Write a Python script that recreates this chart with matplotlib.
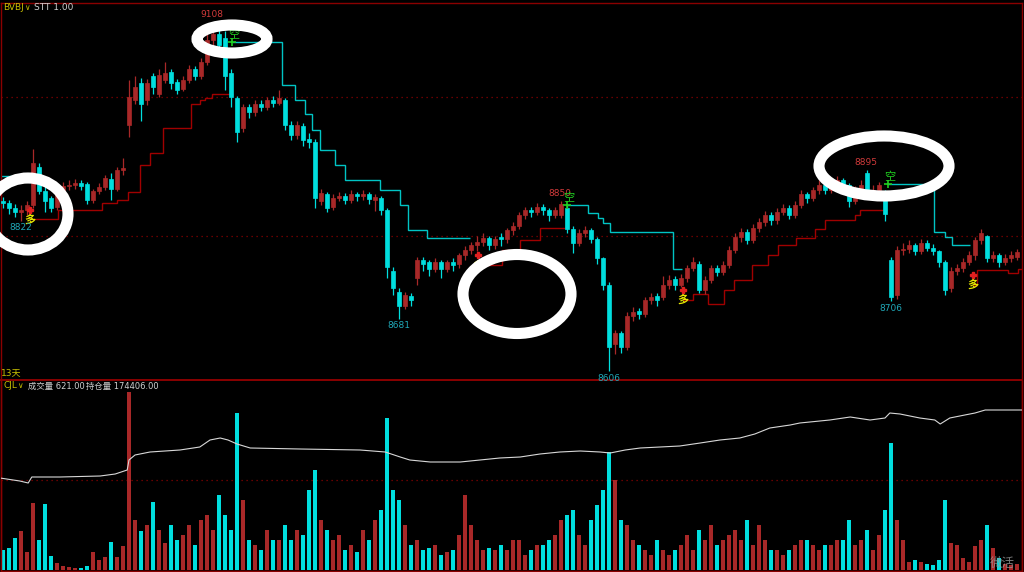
import matplotlib.pyplot as plt
from matplotlib.patches import Ellipse

plt.rcParams['font.family'] = ['DejaVu Sans', 'Noto Sans CJK SC']

# candles (price)
opens = [8850, 8848, 8840, 8835, 8838, 8845, 8900, 8865, 8855, 8842,
         8866, 8872, 8873, 8876, 8875, 8852, 8865, 8870, 8882, 8868,
         8895, 8960, 8995, 9020, 8995, 9030, 9005, 9025, 9036, 9022,
         9012, 9025, 9040, 9030, 9050, 9082, 9090, 9085, 9035, 8998,
         8955, 8985, 8978, 8990, 8986, 8995, 8992, 8995, 8960, 8945,
         8958, 8940, 8935, 8850, 8860, 8842, 8855, 8858, 8852, 8860,
         8857, 8860, 8852, 8855, 8838, 8750, 8720, 8700, 8714, 8740,
         8765, 8762, 8752, 8762, 8752, 8762, 8760, 8772, 8780, 8787,
         8792, 8797, 8787, 8798, 8795, 8808, 8815, 8830, 8837, 8834,
         8842, 8837, 8830, 8830, 8840, 8810, 8790, 8805, 8808, 8795,
         8768, 8730, 8645, 8660, 8640, 8685, 8692, 8688, 8708, 8714,
         8712, 8730, 8738, 8730, 8740, 8754, 8760, 8722, 8737, 8754,
         8748, 8758, 8780, 8798, 8806, 8794, 8812, 8820, 8830, 8823,
         8835, 8840, 8830, 8845, 8860, 8855, 8866, 8873, 8866, 8873,
         8881, 8873, 8850, 8866, 8890, 8862, 8866, 8862, 8765, 8715,
         8780, 8782, 8787, 8778, 8790, 8783, 8778, 8763, 8725, 8750,
         8754, 8763, 8772, 8794, 8800, 8768, 8772, 8763, 8768, 8770]
closes = [8848, 8840, 8835, 8838, 8845, 8905, 8865, 8850, 8840, 8868,
          8872, 8873, 8876, 8872, 8852, 8865, 8870, 8883, 8868, 8895,
          8898, 9000, 9015, 8990, 9020, 9015, 9032, 9035, 9020, 9010,
          9025, 9040, 9030, 9050, 9082, 9090, 9075, 9030, 9000, 8950,
          8985, 8978, 8990, 8986, 8995, 8992, 8998, 8960, 8945, 8960,
          8938, 8935, 8855, 8862, 8840, 8855, 8858, 8852, 8860, 8857,
          8860, 8853, 8856, 8838, 8755, 8725, 8700, 8715, 8708, 8765,
          8760, 8752, 8762, 8752, 8762, 8758, 8772, 8780, 8787, 8792,
          8797, 8787, 8795, 8795, 8808, 8815, 8830, 8837, 8834, 8842,
          8837, 8830, 8838, 8846, 8810, 8790, 8805, 8808, 8795, 8768,
          8730, 8640, 8660, 8640, 8685, 8690, 8688, 8708, 8712, 8708,
          8730, 8737, 8730, 8740, 8754, 8763, 8722, 8737, 8754, 8748,
          8758, 8780, 8798, 8806, 8794, 8812, 8820, 8830, 8823, 8835,
          8840, 8830, 8845, 8860, 8855, 8866, 8873, 8866, 8873, 8881,
          8873, 8850, 8866, 8873, 8862, 8866, 8873, 8832, 8712, 8780,
          8782, 8787, 8778, 8790, 8783, 8778, 8763, 8722, 8750, 8754,
          8763, 8772, 8794, 8804, 8768, 8772, 8763, 8768, 8772, 8777]
highs = [8856, 8852, 8846, 8844, 8850, 8925, 8905, 8875, 8858, 8872,
         8878, 8880, 8882, 8880, 8878, 8868, 8876, 8888, 8890, 8900,
         8912, 9025, 9030, 9028, 9026, 9034, 9040, 9050, 9040, 9026,
         9030, 9046, 9044, 9056, 9090, 9108, 9096, 9095, 9040, 9002,
         8990, 8990, 8996, 8996, 9000, 9002, 9010, 8998, 8966, 8965,
         8962, 8948, 8940, 8868, 8864, 8860, 8864, 8862, 8866, 8864,
         8866, 8864, 8860, 8858, 8840, 8756, 8725, 8720, 8718, 8770,
         8770, 8766, 8768, 8766, 8766, 8768, 8776, 8786, 8792, 8800,
         8804, 8800, 8800, 8804, 8812, 8820, 8834, 8842, 8842, 8848,
         8846, 8840, 8842, 8850, 8844, 8814, 8810, 8814, 8812, 8798,
         8770, 8734, 8665, 8664, 8690, 8698, 8696, 8712, 8718, 8718,
         8742, 8744, 8742, 8746, 8758, 8770, 8764, 8742, 8758, 8758,
         8764, 8786, 8804, 8812, 8810, 8818, 8826, 8836, 8834, 8840,
         8846, 8844, 8850, 8866, 8864, 8870, 8880, 8876, 8878, 8886,
         8884, 8876, 8872, 8880, 8895, 8874, 8878, 8866, 8770, 8785,
         8790, 8794, 8790, 8796, 8794, 8788, 8780, 8766, 8756, 8760,
         8768, 8778, 8798, 8810, 8802, 8778, 8776, 8774, 8778, 8782]
lows = [8840, 8832, 8828, 8822, 8830, 8840, 8860, 8835, 8835, 8838,
        8862, 8866, 8868, 8866, 8846, 8848, 8860, 8866, 8852, 8865,
        8888, 8942, 8990, 8965, 8988, 9005, 9000, 9020, 9012, 9005,
        9008, 9020, 9024, 9026, 9046, 9070, 9066, 9010, 8985, 8935,
        8950, 8970, 8972, 8980, 8982, 8986, 8988, 8952, 8938, 8940,
        8930, 8926, 8840, 8845, 8834, 8838, 8850, 8846, 8848, 8850,
        8852, 8846, 8836, 8830, 8740, 8715, 8681, 8695, 8700, 8730,
        8750, 8742, 8748, 8740, 8748, 8750, 8754, 8766, 8774, 8778,
        8786, 8780, 8782, 8786, 8790, 8802, 8810, 8824, 8828, 8830,
        8830, 8822, 8826, 8826, 8805, 8775, 8785, 8798, 8790, 8760,
        8722, 8606, 8630, 8632, 8636, 8678, 8680, 8684, 8702, 8700,
        8708, 8724, 8722, 8726, 8734, 8750, 8718, 8716, 8732, 8742,
        8744, 8754, 8776, 8792, 8788, 8790, 8806, 8814, 8816, 8818,
        8830, 8824, 8826, 8840, 8848, 8850, 8860, 8860, 8862, 8868,
        8866, 8842, 8846, 8862, 8858, 8856, 8860, 8822, 8706, 8710,
        8772, 8776, 8772, 8774, 8778, 8772, 8756, 8715, 8720, 8744,
        8748, 8758, 8766, 8788, 8762, 8762, 8756, 8758, 8762, 8766]

# volume (lots) and open interest
volume = [2000, 2200, 3200, 3900, 1800, 6700, 3000, 6600, 1400, 700,
          400, 300, 200, 200, 400, 1800, 1000, 1300, 2800, 1300,
          2400, 17800, 5000, 3900, 4500, 6800, 4000, 2700, 4500, 3000,
          3500, 4500, 2500, 5000, 5500, 4000, 7500, 5500, 4000, 15700,
          7000, 3000, 2500, 2000, 4000, 3000, 3000, 4500, 3000, 4000,
          3500, 8000, 10000, 5000, 4000, 3000, 3500, 2000, 2500, 1800,
          4000, 3000, 5000, 6000, 15200, 8000, 7000, 4500, 2500, 3000,
          2000, 2200, 2500, 1500, 1800, 2000, 3500, 7500, 4500, 3000,
          2000, 2200, 2000, 2500, 2000, 3000, 3000, 1500, 2000, 2500,
          2500, 3000, 3500, 5000, 5500, 6000, 3500, 2500, 5000, 6500,
          8000, 11800, 9000, 5000, 4500, 3000, 2500, 2000, 1500, 3000,
          2000, 1500, 2000, 2500, 3500, 2000, 4000, 3000, 4500, 2500,
          3000, 3500, 4000, 3000, 5000, 2500, 4500, 3000, 2000, 2000,
          1500, 2000, 2500, 3000, 3000, 2500, 2000, 2500, 2500, 3000,
          3000, 5000, 2500, 3000, 4000, 2000, 3500, 6000, 12700, 5000,
          3000, 800, 1000, 800, 600, 500, 1000, 7000, 2700, 2500,
          1200, 800, 2400, 3000, 4500, 2200, 1200, 600, 500, 621]
oi_idx = [-0.5, 2.8, 4.2, 4.8, 9.5, 16.2, 18.7, 20.7, 21.0, 22.0,
          24.5, 29.5, 32.8, 34.5, 36.2, 37.5, 39.0, 41.2, 49.5, 59.5,
          63.7, 66.2, 67.8, 71.2, 76.2, 79.5, 82.8, 86.2, 89.5, 92.8,
          96.2, 99.5, 101.2, 103.7, 106.2, 109.5, 112.8, 116.2, 119.5, 122.8,
          125.3, 127.8, 131.2, 132.8, 137.8, 141.2, 144.5, 147.0, 147.8, 149.5,
          152.8, 155.3, 156.2, 157.8, 160.3, 162.0, 163.7, 169.8]
oi_val = [171006, 170856, 170756, 171056, 171056, 171106, 171206, 171406, 171906, 172156,
          172306, 172406, 172556, 172906, 173006, 172906, 172706, 172506, 172456, 172406,
          172306, 172056, 171906, 171806, 171806, 171906, 172006, 172056, 172206, 172306,
          172356, 172306, 172256, 172406, 172506, 172556, 172606, 172756, 172906, 173006,
          173206, 173506, 173656, 173756, 173906, 174056, 173906, 174006, 174256, 174206,
          174006, 173906, 173706, 174006, 174156, 174256, 174406, 174406]

# trailing stop lines: (edges in bar index, levels)
short_lines = [
    ([-0.5, 4.2], [8886]),
    ([38.2, 46.5, 48.7, 50.3, 51.5, 52.8, 55.3, 57.0, 62.8, 66.2, 67.5, 70.7, 77.8],
     [9079, 9018, 8996, 8975, 8953, 8924, 8902, 8881, 8866, 8845, 8809, 8797]),
    ([94.0, 97.5, 99.2, 100.0, 101.2, 111.7, 113.2],
     [8845, 8833, 8826, 8819, 8806, 8753]),
    ([147.5, 155.2, 157.0, 158.2, 161.2], [8875, 8806, 8799, 8787]),
]
long_lines = [
    ([4.5, 9.2, 16.5, 19.0, 20.8, 22.8, 24.5, 26.7, 31.3, 32.8, 33.7, 34.8, 38.3],
     [8824, 8837, 8847, 8852, 8863, 8902, 8920, 8955, 8990, 8995, 8999, 9005]),
    ([79.2, 83.2, 86.2, 89.5, 93.7], [8758, 8780, 8794, 8812]),
    ([113.3, 115.0, 117.5, 120.2, 121.8, 124.8, 127.5, 129.2, 132.2, 135.3, 137.0, 142.0, 142.8, 147.3],
     [8708, 8717, 8702, 8722, 8737, 8758, 8773, 8787, 8797, 8810, 8823, 8830, 8837]),
    ([161.7, 162.3, 167.5, 169.2, 170.0], [8730, 8751, 8747, 8752]),
]
high_marks = [35, 93, 144]
low_marks = [3, 66, 101, 148]

UP = '#a82828'
DOWN = '#00dede'
FLAT = '#b0b0b0'
BORDER = '#8a0000'

W, H = 1024, 572
fig = plt.figure(figsize=(W / 100, H / 100), dpi=100, facecolor='black')
ax = fig.add_axes([1 / W, 1 - 380 / H, 1021 / W, 377 / H], facecolor='black')
axv = fig.add_axes([1 / W, 1 / H, 1021 / W, 190 / H], facecolor='black', sharex=ax)

n = len(closes)
idx = list(range(n))
cols = [UP if c > o else (DOWN if c < o else FLAT) for o, c in zip(opens, closes)]

ax.vlines(idx, lows, highs, colors=cols, lw=0.9, zorder=3)
bottoms = [min(o, c) for o, c in zip(opens, closes)]
heights = [max(abs(c - o), 1.5) for o, c in zip(opens, closes)]
ax.bar(idx, heights, bottom=bottoms, width=0.55, color=cols, edgecolor=cols, lw=0.5, zorder=4)

for edges, lv in short_lines:
    ax.stairs(lv, edges, baseline=None, color='#00c4c4', lw=1.0, zorder=2)
for edges, lv in long_lines:
    ax.stairs(lv, edges, baseline=None, color='#a00000', lw=1.0, zorder=2)

# signals
for edges, lv in long_lines:
    ax.annotate('多', (edges[0], lv[0]), color='#e6e600', fontsize=8, ha='center', va='center',
                fontweight='bold', zorder=6)
    ax.plot(edges[0], lv[0] + 14, marker='P', color='#e02020', ms=5, mec='#e02020', zorder=6)
for edges, lv in short_lines[1:]:
    ax.annotate('空', (edges[0], lv[0]), xytext=(1, 5), textcoords='offset points',
                color='#20d020', fontsize=8, ha='center', va='center', zorder=6)
    ax.plot(edges[0], lv[0], marker='+', color='#20d020', ms=6, mew=1.2, zorder=6)

for i in high_marks:
    ax.annotate(f'{highs[i]}', (i, highs[i]), xytext=(-1, 2), textcoords='offset points',
                color='#d03a3a', fontsize=6.5, ha='center', va='bottom', zorder=5)
for i in low_marks:
    ax.annotate(f'{lows[i]}', (i, lows[i]), xytext=(0, -2), textcoords='offset points',
                color='#20a8b8', fontsize=6.5, ha='center', va='top', zorder=6)

for g in (9000, 8800):
    ax.axhline(g, color=BORDER, lw=0.9, ls=(0, (1, 3)), zorder=1)

ax.set_xlim(-1 / 3, 169.83)
ax.set_ylim(8592.8, 9135.3)

# volume panel
axv.bar(idx, volume, width=0.6, color=cols, lw=0, zorder=3)
axv.axhline(9000, color=BORDER, lw=0.9, ls=(0, (1, 3)), zorder=1)
axv.set_ylim(-100, 18900)
axo = axv.twinx()
axo.plot(oi_idx, oi_val, color='#d8d8d8', lw=0.8, zorder=4)
axo.set_ylim(166356, 175856)

for a in (ax, axv, axo):
    a.set_xticks([])
    a.set_yticks([])
    for s in a.spines.values():
        s.set_color(BORDER)
        s.set_linewidth(1.0)
axv.spines['top'].set_visible(False)
axo.spines['top'].set_visible(False)
ax.spines['bottom'].set_linewidth(1.4)

# white ring annotations on top of the chart
for cx, cy, ew, eh in [(28, 214, 80, 72), (232, 39, 70, 28), (517, 294, 108, 79), (884, 166, 130, 60)]:
    fig.add_artist(Ellipse((cx / W, 1 - cy / H), ew / W, eh / H, transform=fig.transFigure,
                           fill=False, ec='white', lw=8, zorder=20))

def ftext(x, y, s, color, size=6.5):
    fig.text(x / W, 1 - y / H, s, color=color, fontsize=size, va='center', ha='left')

ftext(3, 7, 'BVBJ', '#c8c000')
ftext(24, 7, '∨', '#c8c000', 5.5)
ftext(34, 7, 'STT 1.00', '#d0d0d0')
ftext(1, 373, '13天', '#c8c000')
ftext(4, 386, 'CJL', '#c8c000')
ftext(17, 386, '∨', '#c8c000', 5.5)
ftext(28, 386, '成交量 621.00', '#d0d0d0', 6)
ftext(86, 386, '持仓量 174406.00', '#d0d0d0', 6)
fig.text(1002 / W, 1 - 563 / H, '微活', color='#9a9a9a', alpha=0.8, fontsize=9, ha='center', va='center')

fig.savefig('out.png', dpi=100, facecolor='black')
